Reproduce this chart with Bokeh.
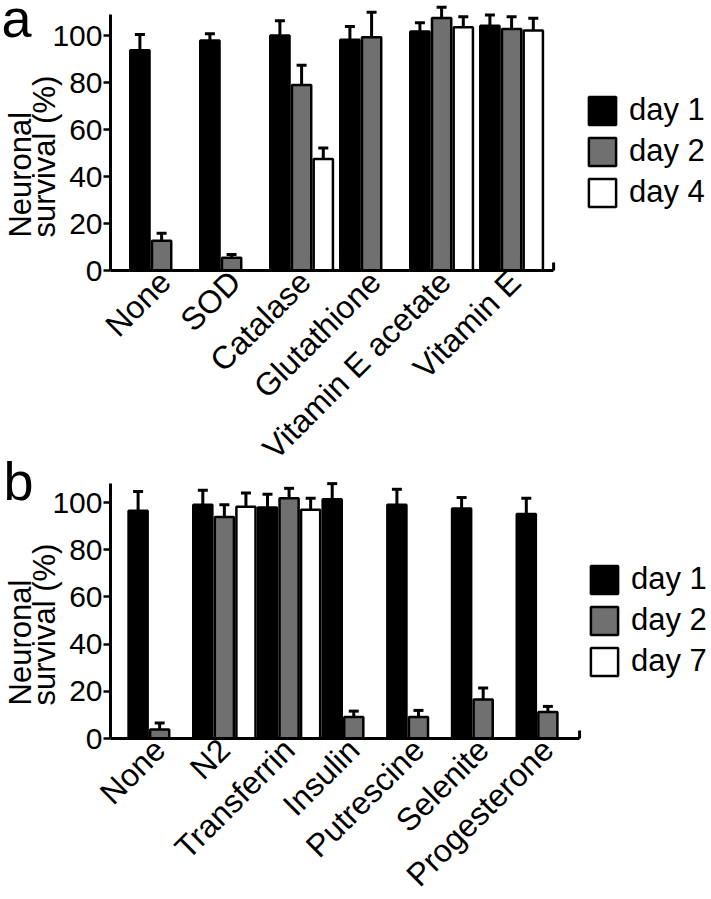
import math
from bokeh.plotting import figure
from bokeh.models import (ColumnDataSource, FixedTicker, Whisker, TeeHead, Legend,
                          LegendItem, Label, Range1d, LinearAxis)
from bokeh.embed import file_html
from bokeh.resources import INLINE

FONT = "Liberation Sans"
NAN = float("nan")

# ---------------- data: panel a ----------------
a_categories = ["None", "SOD", "Catalase", "Glutathione", "Vitamin E acetate", "Vitamin E"]
a_days = ["day 1", "day 2", "day 4"]
a_day1 = [93.7, 97.9, 100.0, 98.2, 101.7, 104.2]
a_day1_err = [6.7, 2.8, 6.3, 5.6, 3.7, 4.5]
a_day2 = [12.7, 5.4, 78.9, 99.3, 107.5, 102.8]
a_day2_err = [3.2, 1.4, 8.4, 10.6, 4.5, 5.2]
a_day4 = [NAN, NAN, 47.5, NAN, 103.5, 102.1]
a_day4_err = [NAN, NAN, 4.6, NAN, 4.5, 5.2]

# ---------------- data: panel b ----------------
b_categories = ["None", "N2", "Transferrin", "Insulin", "Putrescine", "Selenite", "Progesterone"]
b_days = ["day 1", "day 2", "day 7"]
b_day1 = [96.5, 99.0, 97.9, 101.4, 99.0, 97.5, 95.1]
b_day1_err = [8.2, 6.2, 5.6, 6.6, 6.6, 4.6, 6.7]
b_day2 = [3.8, 93.9, 101.8, 9.1, 9.1, 16.5, 11.2]
b_day2_err = [2.8, 5.1, 4.2, 2.5, 2.8, 4.9, 2.4]
b_day7 = [NAN, 98.2, 96.9, NAN, NAN, NAN, NAN]
b_day7_err = [NAN, 5.8, 4.9, NAN, NAN, NAN, NAN]

y_ticks = [0, 20, 40, 60, 80, 100]
day_colors = ["#000000", "#707070", "#ffffff"]

FRAME_W = 711
FRAME_H = 898
AXIS_PX = 110  # y axes sit this far from the frame's left edge

# panel layouts (pixel scale / placement only)
A = dict(ppu=70.0, x_axis_start=-0.73, x_axis_end=5.6, y0_px=270, ppy=2.35)
B = dict(ppu=64.7, x_axis_start=-0.76, x_axis_end=6.49, y0_px=738, ppy=2.36)


def x_range_for(cfg):
    start = cfg["x_axis_start"] - AXIS_PX / cfg["ppu"]
    return Range1d(start, start + FRAME_W / cfg["ppu"])


def y_range_for(cfg):
    return Range1d(-(FRAME_H - cfg["y0_px"]) / cfg["ppy"], cfg["y0_px"] / cfg["ppy"])


p = figure(x_range=x_range_for(A), y_range=y_range_for(A),
           frame_width=FRAME_W, frame_height=FRAME_H,
           min_border_left=0, min_border_right=0, min_border_top=0, min_border_bottom=0,
           x_axis_location=None, y_axis_location=None,
           toolbar_location=None, output_backend="svg")
p.extra_x_ranges = {"b": x_range_for(B)}
p.extra_y_ranges = {"b": y_range_for(B)}
p.outline_line_color = None
p.xgrid.visible = False
p.ygrid.visible = False


def add_panel(rn, cfg, letter, categories, days, series, errs, slot, bar_w,
              tick_shift, y_axis_top, legend_loc, ylabel_y, letter_dx, letter_y):
    rk = dict(x_range_name=rn, y_range_name=rn)
    n = len(categories)
    offsets = [-slot, 0.0, slot]
    items = []
    for d, (vals, err) in enumerate(zip(series, errs)):
        xs, tops, uppers = [], [], []
        for i in range(n):
            if not math.isnan(vals[i]):
                xs.append(i + offsets[d])
                tops.append(vals[i])
                uppers.append(vals[i] + err[i])
        src = ColumnDataSource(dict(x=xs, top=tops, upper=uppers))
        r = p.vbar(x="x", top="top", bottom=0, width=bar_w, source=src,
                   fill_color=day_colors[d], line_color="black", line_width=2.5, **rk)
        w = Whisker(source=src, base="x", upper="upper", lower="top",
                    dimension="height", line_width=3, line_color="black",
                    upper_head=TeeHead(size=10, line_width=3, line_color="black"),
                    lower_head=None, **rk)
        p.add_layout(w)
        items.append(LegendItem(label=days[d], renderers=[r]))

    legend = Legend(items=items, location=legend_loc, orientation="vertical",
                    glyph_width=34, glyph_height=35, label_height=35,
                    spacing=5, padding=0, margin=0, label_standoff=10,
                    border_line_color=None, background_fill_alpha=0,
                    label_text_font_size="31px", label_text_font=FONT,
                    label_text_color="black")
    p.add_layout(legend)

    # small end tick at the right end of the x axis
    p.segment(x0=[cfg["x_axis_end"]], y0=[0], x1=[cfg["x_axis_end"]],
              y1=[8 / cfg["ppy"]], line_width=3, line_color="black", **rk)

    xa = LinearAxis(fixed_location=0, **rk)
    xa.ticker = FixedTicker(ticks=[i + tick_shift for i in range(n)])
    xa.major_label_overrides = {i + tick_shift: c for i, c in enumerate(categories)}
    xa.major_label_orientation = math.pi / 4
    xa.major_tick_out = 0
    xa.major_tick_in = 0
    xa.minor_tick_out = 0
    xa.minor_tick_in = 0
    xa.axis_line_width = 3
    xa.axis_line_color = "black"
    xa.bounds = (cfg["x_axis_start"], cfg["x_axis_end"])
    xa.major_label_text_font = FONT
    xa.major_label_text_font_size = "32px"
    xa.major_label_text_color = "black"
    xa.major_label_standoff = 6
    p.add_layout(xa, "below")

    ya = LinearAxis(fixed_location=cfg["x_axis_start"], **rk)
    ya.ticker = FixedTicker(ticks=y_ticks)
    ya.bounds = (0, y_axis_top)
    ya.major_tick_out = 7
    ya.major_tick_in = 0
    ya.minor_tick_out = 0
    ya.minor_tick_in = 0
    ya.major_tick_line_width = 2.5
    ya.major_tick_line_color = "black"
    ya.axis_line_width = 3
    ya.axis_line_color = "black"
    ya.major_label_text_font = FONT
    ya.major_label_text_font_size = "30px"
    ya.major_label_text_color = "black"
    ya.major_label_standoff = 1
    p.add_layout(ya, "left")

    p.add_layout(Label(x=cfg["x_axis_start"], y=ylabel_y, x_offset=-90, angle=math.pi / 2,
                       text="Neuronal", text_align="left", text_baseline="alphabetic",
                       text_font=FONT, text_font_size="31px", text_color="black", **rk))
    p.add_layout(Label(x=cfg["x_axis_start"], y=ylabel_y, x_offset=-66, angle=math.pi / 2,
                       text="survival (%)", text_align="left", text_baseline="alphabetic",
                       text_font=FONT, text_font_size="31px", text_color="black", **rk))
    p.add_layout(Label(x=cfg["x_axis_start"], y=letter_y, x_offset=letter_dx, text=letter,
                       text_align="left", text_baseline="alphabetic",
                       text_font=FONT, text_font_size="54px", text_color="black", **rk))


add_panel("default", A, "a", a_categories, a_days, [a_day1, a_day2, a_day4],
          [a_day1_err, a_day2_err, a_day4_err],
          slot=0.31, bar_w=0.275, tick_shift=0.05, y_axis_top=109,
          legend_loc=(585, 688), ylabel_y=14, letter_dx=-109, letter_y=107.6)

add_panel("b", B, "b", b_categories, b_days, [b_day1, b_day2, b_day7],
          [b_day1_err, b_day2_err, b_day7_err],
          slot=1 / 3, bar_w=0.295, tick_shift=0.0, y_axis_top=108,
          legend_loc=(587, 219), ylabel_y=14, letter_dx=-107, letter_y=109.3)

open("out.html", "w").write(file_html(p, INLINE))
